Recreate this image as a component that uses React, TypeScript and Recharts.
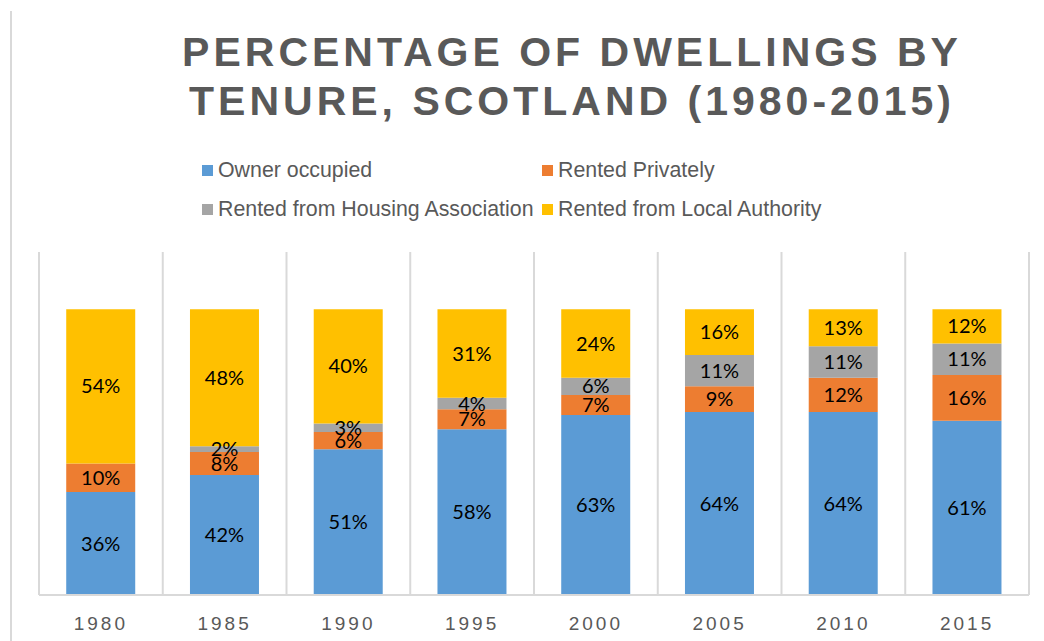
import {
  BarChart,
  Bar,
  XAxis,
  YAxis,
  CartesianGrid,
  LabelList,
} from "recharts";

const years = ["1980", "1985", "1990", "1995", "2000", "2005", "2010", "2015"];
const ownerOccupied = [36, 42, 51, 58, 63, 64, 64, 61];
const rentedPrivately = [10, 8, 6, 7, 7, 9, 12, 16];
const housingAssociation = [null, 2, 3, 4, 6, 11, 11, 11];
const localAuthority = [54, 48, 40, 31, 24, 16, 13, 12];

const seriesNames = [
  "Owner occupied",
  "Rented Privately",
  "Rented from Housing Association",
  "Rented from Local Authority",
];

const colors = {
  owner: "#5B9BD5",
  privately: "#ED7D31",
  housing: "#A5A5A5",
  local: "#FFC000",
  text: "#595959",
  grid: "#D9D9D9",
};

const data = years.map((year, i) => ({
  year,
  owner: ownerOccupied[i],
  privately: rentedPrivately[i],
  housing: housingAssociation[i],
  local: localAuthority[i],
}));

const pct = (v: any) => (v == null ? "" : `${v}%`);

const labelStyle = {
  fill: "#000000",
  fontSize: 20,
  fontFamily: "Lato, 'Open Sans', sans-serif",
};

function LegendItem({ color, label, x, y }: { color: string; label: string; x: number; y: number }) {
  return (
    <div
      style={{
        position: "absolute",
        left: x,
        top: y,
        height: 26,
        display: "flex",
        alignItems: "center",
        color: colors.text,
        fontFamily: "'Liberation Sans', Arial, sans-serif",
        fontSize: 22,
        whiteSpace: "nowrap",
      }}
    >
      <span
        style={{
          display: "inline-block",
          width: 11,
          height: 11,
          background: color,
          marginRight: 5,
        }}
      />
      <span style={{ display: "inline-block", transform: "scaleX(0.97)", transformOrigin: "left center" }}>
        {label}
      </span>
    </div>
  );
}

export default function App() {
  const gridX = ({ offset }: any) =>
    years.map((_, i) => offset.left + (i * offset.width) / years.length).concat(offset.left + offset.width);

  return (
    <div
      style={{
        position: "absolute",
        left: 0,
        top: 0,
        width: 1044,
        height: 641,
        background: "#ffffff",
        overflow: "hidden",
      }}
    >
      <div
        style={{
          position: "absolute",
          left: 10,
          top: 11,
          width: 2,
          height: 630,
          background: colors.grid,
        }}
      />
      <div
        style={{
          position: "absolute",
          left: 0,
          width: 1144,
          top: 28,
          textAlign: "center",
          color: colors.text,
          fontFamily: "'Liberation Sans', Arial, sans-serif",
          fontWeight: "bold",
          fontSize: 41,
          letterSpacing: 4,
          lineHeight: "49px",
        }}
      >
        PERCENTAGE OF DWELLINGS BY
        <br />
        TENURE, SCOTLAND (1980-2015)
      </div>
      <LegendItem color={colors.owner} label={seriesNames[0]} x={202} y={157} />
      <LegendItem color={colors.privately} label={seriesNames[1]} x={542} y={157} />
      <LegendItem color={colors.housing} label={seriesNames[2]} x={202} y={196} />
      <LegendItem color={colors.local} label={seriesNames[3]} x={542} y={196} />
      <div style={{ position: "absolute", left: 0, top: 0 }}>
        <BarChart
          width={1044}
          height={641}
          data={data}
          margin={{ top: 252, left: 39, right: 15, bottom: 16 }}
          barCategoryGap="22%"
        >
          <CartesianGrid
            horizontal={false}
            vertical
            stroke={colors.grid}
            strokeWidth={2}
            verticalCoordinatesGenerator={gridX}
          />
          <XAxis
            dataKey="year"
            height={30}
            tickLine={false}
            axisLine={{ stroke: colors.grid, strokeWidth: 2 }}
            tickMargin={16}
            tick={{
              fill: colors.text,
              fontSize: 19,
              letterSpacing: 3,
              fontFamily: "'Liberation Sans', Arial, sans-serif",
            }}
          />
          <YAxis hide domain={[0, 120]} />
          <Bar dataKey="owner" stackId="a" fill={colors.owner} isAnimationActive={false}>
            <LabelList dataKey="owner" position="center" formatter={pct} style={labelStyle} />
          </Bar>
          <Bar dataKey="privately" stackId="a" fill={colors.privately} isAnimationActive={false}>
            <LabelList dataKey="privately" position="center" formatter={pct} style={labelStyle} />
          </Bar>
          <Bar dataKey="housing" stackId="a" fill={colors.housing} isAnimationActive={false}>
            <LabelList dataKey="housing" position="center" formatter={pct} style={labelStyle} />
          </Bar>
          <Bar dataKey="local" stackId="a" fill={colors.local} isAnimationActive={false}>
            <LabelList dataKey="local" position="center" formatter={pct} style={labelStyle} />
          </Bar>
        </BarChart>
      </div>
    </div>
  );
}
